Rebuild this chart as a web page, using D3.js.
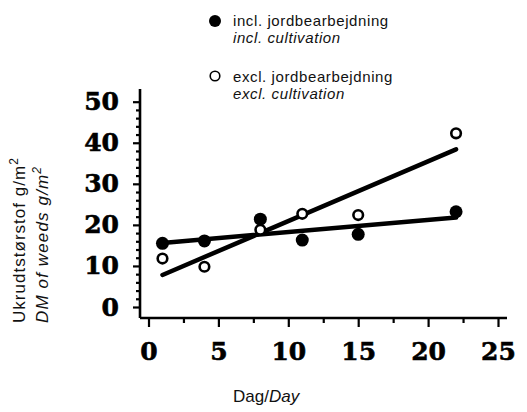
<!DOCTYPE html>
<html>
<head>
<meta charset="utf-8">
<title>Ukrudt</title>
<style>
  body { margin: 0; background: #fff; }
  .tick text { font-family: 'DejaVu Serif', serif; font-weight: bold; font-size: 25px; fill: #000; stroke: #000; stroke-width: 0.6px; }
  .lbl { font-family: 'Liberation Sans', Arial, sans-serif; font-size: 16.5px; fill: #111; }
  .leg { font-family: 'Liberation Sans', Arial, sans-serif; font-size: 15px; letter-spacing: 0.6px; fill: #111; }
</style>
<script src="https://d3js.org/d3.v7.min.js"></script>
</head>
<body>
<svg id="chart" width="527" height="412"></svg>
<script>
// data
var days = [1, 4, 8, 11, 15, 22];
var inclValues = [15.5, 16.1, 21.4, 16.3, 17.7, 23.2];
var exclValues = [11.8, 9.8, 18.8, 22.7, 22.4, 42.3];
// fitted lines (end points at day 1 and day 22)
var fitDays = [1, 22];
var inclFit = [15.6, 21.8];
var exclFit = [7.8, 38.4];

var xTicks = [0, 5, 10, 15, 20, 25];
var xMinor = [2.5, 7.5, 12.5, 17.5, 22.5];
var yTicks = [0, 10, 20, 30, 40, 50];
var yMinor = d3.range(2, 52, 2).filter(function(v){ return v % 10 != 0; });

var svg = d3.select("#chart");
var x = d3.scaleLinear().domain([0, 25]).range([148.5, 498]);
var y = d3.scaleLinear().domain([0, 50]).range([307, 101.7]);

var axX = 140, axY = 318;

// y axis
var gy = svg.append("g").attr("transform", "translate(" + axX + ",0)");
gy.append("g").call(d3.axisLeft(y).tickValues(yMinor).tickSize(4).tickFormat(""))
  .call(function(g){ g.select(".domain").remove(); });
gy.append("g").call(d3.axisLeft(y).tickValues(yTicks).tickSize(7).tickPadding(14).tickFormat(d3.format("d")))
  .call(function(g){ g.select(".domain").remove(); });
gy.selectAll(".tick line").attr("stroke", "#000").attr("stroke-width", 2.2);
gy.append("line").attr("x1", 0).attr("x2", 0).attr("y1", 89).attr("y2", axY)
  .attr("stroke", "#000").attr("stroke-width", 2.6);

// x axis
var gx = svg.append("g").attr("transform", "translate(0," + axY + ")");
gx.append("g").call(d3.axisBottom(x).tickValues(xMinor).tickSize(5).tickFormat(""))
  .call(function(g){ g.select(".domain").remove(); });
gx.append("g").call(d3.axisBottom(x).tickValues(xTicks).tickSize(9).tickPadding(15).tickFormat(d3.format("d")))
  .call(function(g){ g.select(".domain").remove(); });
gx.selectAll(".tick line").attr("stroke", "#000").attr("stroke-width", 2.2);
gx.append("line").attr("x1", axX).attr("x2", 507).attr("y1", 0).attr("y2", 0)
  .attr("stroke", "#000").attr("stroke-width", 2.6);

// fitted lines
var line = d3.line().x(function(d){ return x(d[0]); }).y(function(d){ return y(d[1]); });
[inclFit, exclFit].forEach(function(f){
  svg.append("path")
    .attr("d", line(d3.zip(fitDays, f)))
    .attr("fill", "none").attr("stroke", "#000").attr("stroke-width", 4.5)
    .attr("stroke-linecap", "round");
});

// points
svg.selectAll(".excl").data(d3.zip(days, exclValues)).join("circle")
  .attr("class", "excl")
  .attr("cx", function(d){ return x(d[0]); }).attr("cy", function(d){ return y(d[1]); })
  .attr("r", 4.8).attr("fill", "#fff").attr("stroke", "#000").attr("stroke-width", 2.6);
svg.selectAll(".incl").data(d3.zip(days, inclValues)).join("circle")
  .attr("class", "incl")
  .attr("cx", function(d){ return x(d[0]); }).attr("cy", function(d){ return y(d[1]); })
  .attr("r", 6.5).attr("fill", "#000");

// legend
svg.append("circle").attr("cx", 215).attr("cy", 21).attr("r", 6).attr("fill", "#000");
svg.append("circle").attr("cx", 215).attr("cy", 76).attr("r", 4.8)
  .attr("fill", "#fff").attr("stroke", "#000").attr("stroke-width", 1.6);
var legTexts = [
  ["incl. jordbearbejdning", 25.5, "normal"],
  ["incl. cultivation", 43, "italic"],
  ["excl. jordbearbejdning", 81.5, "normal"],
  ["excl. cultivation", 99, "italic"]
];
legTexts.forEach(function(t){
  svg.append("text").attr("class", "leg").attr("x", 233).attr("y", t[1])
    .style("font-style", t[2]).text(t[0]);
});

// axis titles
var xt = svg.append("text").attr("class", "lbl").style("font-size", "17px").attr("x", 233).attr("y", 402);
xt.append("tspan").text("Dag/");
xt.append("tspan").style("font-style", "italic").text("Day");

function yTitle(tx, txt, len, italic) {
  var t = svg.append("text").attr("class", "lbl").style("font-size", "17px")
    .style("font-style", italic ? "italic" : "normal")
    .attr("transform", "translate(" + tx + ",323) rotate(-90)");
  t.append("tspan").text(txt);
  t.append("tspan").attr("dy", -7).style("font-size", "12px").text("2");
  t.attr("textLength", len).attr("lengthAdjust", "spacing");
}
yTitle(25, "Ukrudtstørstof g/m", 165, false);
yTitle(48, "DM of weeds g/m", 156, true);
</script>
</body>
</html>
